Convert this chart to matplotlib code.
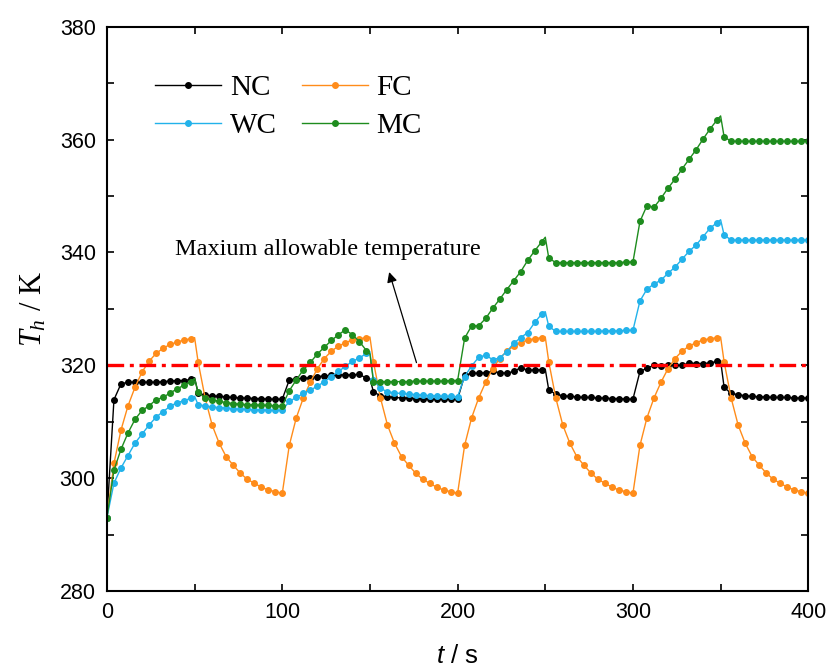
import numpy as np
import matplotlib.pyplot as plt

# sample times (s); 50/150/250/350 are extra line points without markers
t = [0, 4, 8, 12, 16, 20, 24, 28, 32, 36, 40, 44, 48, 50,
     52, 56, 60, 64, 68, 72, 76, 80, 84, 88, 92, 96, 100,
     104, 108, 112, 116, 120, 124, 128, 132, 136, 140, 144, 148, 150,
     152, 156, 160, 164, 168, 172, 176, 180, 184, 188, 192, 196, 200,
     204, 208, 212, 216, 220, 224, 228, 232, 236, 240, 244, 248, 250,
     252, 256, 260, 264, 268, 272, 276, 280, 284, 288, 292, 296, 300,
     304, 308, 312, 316, 320, 324, 328, 332, 336, 340, 344, 348, 350,
     352, 356, 360, 364, 368, 372, 376, 380, 384, 388, 392, 396, 400]

nc = [293.0, 313.9, 316.7, 317.0, 317.0, 317.0, 317.0, 317.0, 317.1, 317.2, 317.3, 317.3, 317.5, 317.8,
      315.0, 314.7, 314.6, 314.5, 314.4, 314.3, 314.2, 314.2, 314.1, 314.1, 314.0, 314.0, 314.0,
      317.4, 317.6, 317.7, 317.8, 318.0, 318.1, 318.2, 318.3, 318.3, 318.3, 318.4, 317.7, 317.6,
      315.3, 314.6, 314.4, 314.3, 314.2, 314.2, 314.1, 314.1, 314.1, 314.0, 314.0, 314.0, 314.0,
      318.2, 318.6, 318.6, 318.7, 318.9, 318.7, 318.6, 318.9, 319.6, 319.1, 319.2, 319.2, 319.3,
      315.6, 314.9, 314.6, 314.5, 314.4, 314.3, 314.3, 314.2, 314.2, 314.1, 314.1, 314.0, 314.0,
      318.9, 319.5, 320.0, 319.8, 320.0, 320.0, 320.0, 320.4, 320.3, 320.3, 320.4, 320.7, 320.8,
      316.1, 315.0, 314.8, 314.6, 314.5, 314.4, 314.4, 314.3, 314.3, 314.3, 314.2, 314.2, 314.2]

fc = [293.0, 302.6, 308.5, 312.8, 316.1, 318.8, 320.7, 322.1, 323.0, 323.7, 324.1, 324.5, 324.7, 324.9,
      320.6, 314.2, 309.4, 306.2, 303.8, 302.3, 300.9, 299.8, 299.1, 298.4, 297.9, 297.6, 297.3,
      305.8, 310.7, 314.2, 317.0, 319.4, 321.2, 322.5, 323.4, 324.0, 324.5, 324.7, 324.9, 325.0,
      320.6, 314.2, 309.4, 306.2, 303.8, 302.3, 300.9, 299.8, 299.1, 298.4, 297.9, 297.6, 297.3,
      305.8, 310.7, 314.2, 317.0, 319.4, 321.2, 322.5, 323.4, 324.0, 324.5, 324.7, 324.9, 325.0,
      320.6, 314.2, 309.4, 306.2, 303.8, 302.3, 300.9, 299.8, 299.1, 298.4, 297.9, 297.6, 297.3,
      305.8, 310.7, 314.2, 317.0, 319.4, 321.2, 322.5, 323.4, 324.0, 324.5, 324.7, 324.9, 325.0,
      320.6, 314.2, 309.4, 306.2, 303.8, 302.3, 300.9, 299.8, 299.1, 298.4, 297.9, 297.6, 297.3]

wc = [293.0, 299.1, 301.8, 304.0, 306.2, 307.8, 309.4, 310.8, 311.8, 312.7, 313.4, 313.7, 314.2, 314.5,
      313.0, 312.8, 312.6, 312.5, 312.4, 312.3, 312.2, 312.2, 312.1, 312.1, 312.0, 312.0, 312.0,
      313.6, 314.3, 315.0, 315.6, 316.3, 317.1, 318.0, 318.9, 319.8, 320.7, 321.3, 322.1, 322.4,
      317.4, 315.9, 315.3, 315.1, 315.0, 314.9, 314.8, 314.7, 314.6, 314.6, 314.5, 314.5, 314.4,
      318.0, 319.9, 321.4, 321.8, 321.0, 321.3, 322.4, 323.9, 324.9, 325.8, 327.6, 329.1, 329.5,
      326.9, 326.0, 326.0, 326.0, 326.0, 326.0, 326.0, 326.0, 326.1, 326.1, 326.1, 326.2, 326.2,
      331.4, 333.5, 334.4, 335.1, 336.3, 337.4, 338.8, 340.2, 341.3, 342.8, 344.3, 345.3, 345.8,
      343.1, 342.2, 342.2, 342.2, 342.2, 342.2, 342.2, 342.2, 342.2, 342.2, 342.2, 342.2, 342.2]

mc = [293.0, 301.4, 305.1, 308.0, 310.4, 312.0, 312.8, 313.9, 314.3, 315.1, 315.8, 316.5, 317.1, 317.7,
      315.2, 314.2, 313.9, 313.6, 313.4, 313.2, 313.1, 313.0, 313.0, 312.9, 312.9, 312.8, 312.8,
      315.5, 317.4, 319.2, 320.5, 322.0, 323.2, 324.4, 325.4, 326.3, 325.4, 324.2, 322.6, 322.0,
      317.1, 317.1, 317.1, 317.1, 317.1, 317.1, 317.2, 317.2, 317.2, 317.2, 317.2, 317.3, 317.3,
      324.8, 327.0, 327.0, 328.3, 330.1, 331.7, 333.4, 335.0, 336.6, 338.6, 340.3, 341.9, 342.7,
      339.0, 338.2, 338.2, 338.2, 338.2, 338.2, 338.2, 338.2, 338.2, 338.2, 338.2, 338.3, 338.3,
      345.5, 348.3, 348.0, 349.6, 351.4, 353.0, 354.8, 356.5, 358.2, 360.1, 361.9, 363.5, 364.2,
      360.5, 359.7, 359.7, 359.7, 359.7, 359.7, 359.7, 359.7, 359.7, 359.7, 359.7, 359.7, 359.7]

max_temp = 320

plt.rcParams['mathtext.fontset'] = 'custom'
plt.rcParams['mathtext.it'] = 'Liberation Serif:italic'
plt.rcParams['mathtext.rm'] = 'Liberation Serif'
plt.rcParams['mathtext.sf'] = 'Liberation Sans:italic'

fig = plt.figure(figsize=(8.29, 6.70), dpi=100)
ax = fig.add_axes([0.129, 0.118, 0.846, 0.842])

marks = [ti % 4 == 0 for ti in t]
kw = dict(lw=1.0, marker='o', markersize=4.0, markevery=marks)
l_nc, = ax.plot(t, nc, color='black', label='NC', **kw)
l_fc, = ax.plot(t, fc, color='#ff8c1a', label='FC', **kw)
l_wc, = ax.plot(t, wc, color='#22b2ea', label='WC', **kw)
l_mc, = ax.plot(t, mc, color='#1e8c1e', label='MC', **kw)

ax.axhline(max_temp, color='red', lw=2.4, linestyle=(0, (5, 1.7, 1.2, 1.7)))

ax.annotate('', xy=(160.5, 337.0), xytext=(177, 320),
            arrowprops=dict(arrowstyle='-|>', color='black', lw=0.9, mutation_scale=15))
ax.text(126, 340.5, 'Maxium allowable temperature', ha='center', va='center',
        fontsize=17.5, family='Liberation Serif')

ax.set_xlim(0, 400)
ax.set_ylim(280, 380)
ax.set_xticks([0, 100, 200, 300, 400])
ax.set_yticks([280, 300, 320, 340, 360, 380])
ax.set_xticks([50, 150, 250, 350], minor=True)
ax.set_yticks([290, 310, 330, 350, 370], minor=True)
ax.tick_params(which='both', direction='in', top=True, right=True, width=1.2)
ax.tick_params(which='major', length=5, labelsize=15.5, pad=8)
ax.tick_params(which='minor', length=5)
for lab in ax.get_xticklabels() + ax.get_yticklabels():
    lab.set_family('Liberation Sans')
for s in ax.spines.values():
    s.set_linewidth(1.5)

ax.set_xlabel('$\\mathsf{t}$ / s', fontsize=18.5, family='Liberation Sans', labelpad=15)
ax.set_ylabel('$T_h$ / K', fontsize=22, family='Liberation Serif', labelpad=8)

ax.legend([l_nc, l_wc, l_fc, l_mc], ['NC', 'WC', 'FC', 'MC'], ncol=2, loc='upper left',
          bbox_to_anchor=(0.031, 0.962), frameon=False,
          prop={'family': 'Liberation Serif', 'size': 21}, handlelength=2.27,
          numpoints=1, columnspacing=0.85, handletextpad=0.3, labelspacing=0.4)

fig.savefig('out.png', dpi=100)
